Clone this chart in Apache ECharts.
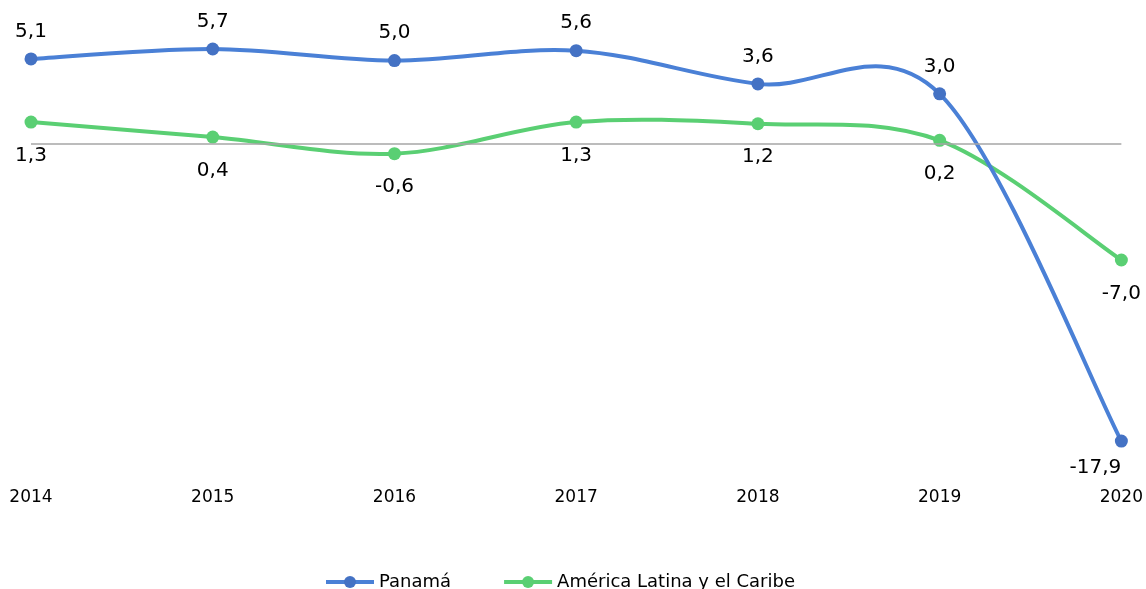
<!DOCTYPE html>
<html>
<head>
<meta charset="utf-8">
<script src="https://cdn.jsdelivr.net/npm/echarts@6/dist/echarts.min.js"></script>
<style>
html,body{margin:0;padding:0;background:#fff;}
#chart{width:1146px;height:589px;}
</style>
</head>
<body>
<div id="chart"></div>
<script>
var years = ['2014','2015','2016','2017','2018','2019','2020'];
var panama = [5.1, 5.7, 5.0, 5.6, 3.6, 3.0, -17.9];
var alc = [1.3, 0.4, -0.6, 1.3, 1.2, 0.2, -7.0];
var seriesNames = ['Panamá', 'América Latina y el Caribe'];

var FONT = 'DejaVu Sans, Verdana, sans-serif';
var BLUE_LINE = '#4A80D6', BLUE_DOT = '#4472C4';
var GREEN = '#5ACF73';
function fmt(p){ return p.value.toFixed(1).replace('.', ','); }

var chart = echarts.init(document.getElementById('chart'));

var panamaData = panama.map(function(v, i){
  var d = {value: v};
  if (i === panama.length - 1) {
    d.label = {position: 'bottom', distance: 10, offset: [-26, 0]};
  }
  return d;
});

// Smooth curve (Catmull-Rom style, like spreadsheet smoothing), drawn per segment
// through the axis scales with api.coord.
function curveSeries(arr, color) {
  return {
    type: 'custom',
    coordinateSystem: 'cartesian2d',
    silent: true,
    z: 1,
    data: arr.map(function(v, i){ return [i, v]; }),
    encode: {x: 0, y: 1},
    renderItem: function(params, api) {
      var i = params.dataIndex, n = arr.length;
      if (i >= n - 1) return {type: 'group', children: []};
      var p = function(k){
        k = Math.max(0, Math.min(n - 1, k));
        return api.coord([k, arr[k]]);
      };
      var p0 = p(i - 1), p1 = p(i), p2 = p(i + 1), p3 = p(i + 2);
      return {
        type: 'bezierCurve',
        shape: {
          x1: p1[0], y1: p1[1],
          cpx1: p1[0] + (p2[0] - p0[0]) / 6, cpy1: p1[1] + (p2[1] - p0[1]) / 6,
          cpx2: p2[0] - (p3[0] - p1[0]) / 6, cpy2: p2[1] - (p3[1] - p1[1]) / 6,
          x2: p2[0], y2: p2[1]
        },
        style: {stroke: color, lineWidth: 4, fill: null, lineCap: 'round'}
      };
    }
  };
}

chart.setOption({
  animation: false,
  textStyle: {fontFamily: FONT},
  grid: {left: 31, right: 23, top: 44, bottom: 113, containLabel: false},
  legend: {
    bottom: -7,
    left: 319,
    itemWidth: 48,
    itemHeight: 15,
    itemGap: 51,
    lineStyle: {opacity: 1, width: 4},
    textStyle: {fontFamily: FONT, fontSize: 18, color: '#000'},
    data: seriesNames
  },
  xAxis: {
    type: 'category',
    data: years,
    boundaryGap: false,
    axisLine: {show: false},
    axisTick: {show: false},
    axisLabel: {fontFamily: FONT, fontSize: 17, color: '#000', margin: 13}
  },
  yAxis: {
    type: 'value',
    min: -20,
    max: 6,
    show: false
  },
  series: [
    {
      name: seriesNames[0],
      type: 'line',
      data: panamaData,
      symbol: 'circle',
      symbolSize: 13,
      z: 4,
      lineStyle: {color: BLUE_LINE, width: 4, opacity: 0},
      itemStyle: {color: BLUE_DOT},
      label: {show: true, position: 'top', distance: 11, formatter: fmt,
              fontFamily: FONT, fontSize: 20, color: '#000'},
      markLine: {
        silent: true,
        symbol: 'none',
        label: {show: false},
        lineStyle: {color: '#a6a6a6', width: 1.5, type: 'solid'},
        data: [{yAxis: 0}]
      }
    },
    {
      name: seriesNames[1],
      type: 'line',
      data: alc,
      symbol: 'circle',
      symbolSize: 13,
      z: 3,
      lineStyle: {color: GREEN, width: 4, opacity: 0},
      itemStyle: {color: GREEN},
      label: {show: true, position: 'bottom', distance: 17, formatter: fmt,
              fontFamily: FONT, fontSize: 20, color: '#000'}
    },
    curveSeries(alc, GREEN),
    curveSeries(panama, BLUE_LINE)
  ]
});
</script>
</body>
</html>
